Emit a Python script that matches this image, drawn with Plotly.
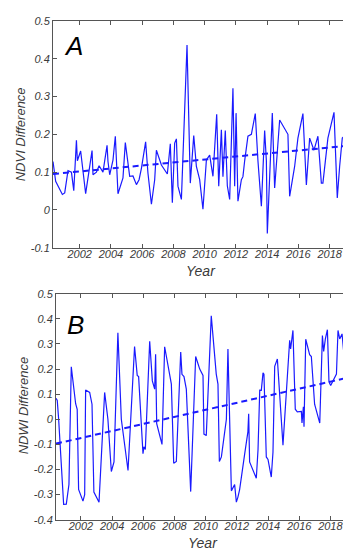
import plotly.graph_objects as go

# ---- Panel A: NDVI difference ----
ndvi_years = [2000.29, 2000.46, 2000.89, 2001.04, 2001.25, 2001.47, 2001.62, 2001.79, 2001.85, 2002.06,
              2002.38, 2002.60, 2002.79, 2002.85, 2003.07, 2003.24, 2003.49, 2003.75, 2003.81, 2003.92,
              2004.13, 2004.28, 2004.45, 2004.77, 2004.92, 2005.20, 2005.41, 2005.63, 2005.80, 2005.95,
              2006.22, 2006.37, 2006.59, 2006.80, 2006.91, 2007.23, 2007.61, 2007.80, 2007.93, 2008.08,
              2008.19, 2008.29, 2008.51, 2008.87, 2009.08, 2009.30, 2009.47, 2009.68, 2009.89, 2010.11,
              2010.32, 2010.53, 2010.77, 2010.90, 2011.07, 2011.17, 2011.32, 2011.45, 2011.60, 2011.81,
              2011.92, 2012.01, 2012.13, 2012.35, 2012.45, 2012.56, 2012.77, 2012.99, 2013.24, 2013.41,
              2013.63, 2013.84, 2013.95, 2014.01, 2014.16, 2014.27, 2014.33, 2014.48, 2014.80, 2015.33,
              2015.44, 2015.76, 2015.97, 2016.29, 2016.51, 2016.72, 2017.00, 2017.25, 2017.47, 2017.57,
              2017.89, 2018.28, 2018.49, 2018.64, 2018.81, 2019.07, 2019.13, 2019.22]
ndvi_vals = [0.128, 0.076, 0.041, 0.045, 0.104, 0.100, 0.051, 0.184, 0.130, 0.156,
             0.043, 0.106, 0.157, 0.093, 0.100, 0.117, 0.100, 0.171, 0.128, 0.093,
             0.132, 0.195, 0.043, 0.085, 0.178, 0.089, 0.090, 0.067, 0.080, 0.110,
             0.180, 0.097, 0.015, 0.080, 0.158, 0.119, 0.095, 0.175, 0.019, 0.177,
             0.188, 0.063, 0.028, 0.436, 0.071, 0.197, 0.115, 0.080, 0.002, 0.132,
             0.145, 0.089, 0.253, 0.063, 0.212, 0.088, 0.210, 0.064, 0.028, 0.322,
             0.063, 0.256, 0.023, 0.080, 0.088, 0.130, 0.195, 0.200, 0.255, 0.130,
             0.010, 0.210, 0.130, -0.062, 0.080, 0.220, 0.256, 0.058, 0.238, 0.200,
             0.036, 0.115, 0.190, 0.255, 0.066, 0.190, 0.158, 0.195, 0.071, 0.071,
             0.190, 0.258, 0.032, 0.115, 0.190, 0.200, 0.235, 0.060]
ndvi_trend_years = [2000.29, 2019.22]
ndvi_trend = [0.095, 0.170]

# ---- Panel B: NDWI difference ----
ndwi_years = [2000.40, 2000.48, 2000.57, 2000.89, 2001.06, 2001.23, 2001.38, 2001.59, 2001.66, 2001.76,
              2001.85, 2002.13, 2002.24, 2002.30, 2002.56, 2002.71, 2002.83, 2003.16, 2003.52, 2003.73,
              2003.95, 2004.12, 2004.37, 2004.59, 2005.02, 2005.44, 2005.61, 2005.70, 2005.98, 2006.04,
              2006.13, 2006.41, 2006.58, 2006.73, 2006.79, 2006.86, 2007.20, 2007.37, 2007.69, 2007.80,
              2007.95, 2008.12, 2008.40, 2008.48, 2008.61, 2008.76, 2009.04, 2009.36, 2009.62, 2009.83,
              2009.89, 2010.04, 2010.36, 2010.62, 2010.68, 2010.79, 2010.88, 2011.01, 2011.33, 2011.43,
              2011.54, 2011.65, 2011.86, 2011.97, 2012.07, 2012.18, 2012.50, 2012.71, 2012.76, 2012.82,
              2013.25, 2013.36, 2013.47, 2013.57, 2013.68, 2013.74, 2013.89, 2014.00, 2014.21, 2014.32,
              2014.43, 2014.60, 2014.96, 2015.39, 2015.45, 2015.60, 2015.75, 2015.88, 2016.14, 2016.18,
              2016.27, 2016.31, 2016.42, 2016.52, 2016.67, 2016.78, 2016.99, 2017.32, 2017.49, 2017.57,
              2017.68, 2017.81, 2017.91, 2018.02, 2018.39, 2018.49, 2018.60, 2018.75, 2019.03, 2019.22]
ndwi_vals = [0.084, 0.075, 0.000, -0.339, -0.338, -0.260, 0.209, 0.100, 0.062, 0.040,
             -0.279, -0.326, -0.300, 0.117, 0.107, 0.060, -0.290, -0.330, 0.107, 0.000,
             -0.208, -0.170, 0.345, 0.000, -0.204, 0.290, 0.175, 0.170, -0.137, -0.110,
             -0.120, 0.311, 0.153, 0.120, 0.259, -0.017, -0.100, 0.289, 0.180, 0.140,
             -0.175, -0.168, 0.268, 0.179, 0.170, 0.120, -0.288, 0.250, 0.200, 0.175,
             -0.059, -0.065, 0.412, 0.192, 0.180, 0.140, -0.168, -0.150, 0.000, 0.280,
             0.000, -0.285, -0.260, -0.330, -0.310, -0.280, -0.140, -0.050, 0.022, -0.170,
             -0.235, -0.120, 0.116, 0.115, 0.185, 0.180, -0.150, -0.160, -0.230, -0.130,
             0.211, 0.240, -0.103, 0.315, 0.280, 0.354, 0.040, 0.030, 0.031, -0.015,
             0.050, -0.030, 0.319, 0.290, 0.257, 0.250, 0.060, -0.015, 0.334, 0.270,
             0.320, 0.357, 0.149, 0.135, 0.180, 0.354, 0.320, 0.340, 0.153, 0.237]
ndwi_trend_years = [2000.40, 2019.22]
ndwi_trend = [-0.097, 0.167]

x_ticks = [2002, 2004, 2006, 2008, 2010, 2012, 2014, 2016, 2018]
ndvi_yticks = [-0.1, 0, 0.1, 0.2, 0.3, 0.4, 0.5]
ndwi_yticks = [-0.4, -0.3, -0.2, -0.1, 0, 0.1, 0.2, 0.3, 0.4, 0.5]

LINE = "#1a1aff"
FONT = "Liberation Sans, Arial, sans-serif"
GRAY = "#3a3a3a"
W, H = 351, 550

fig = go.Figure()
fig.add_trace(go.Scatter(x=ndvi_years, y=ndvi_vals, mode="lines",
                         line=dict(color=LINE, width=1.2), xaxis="x", yaxis="y", showlegend=False))
fig.add_trace(go.Scatter(x=ndvi_trend_years, y=ndvi_trend, mode="lines",
                         line=dict(color=LINE, width=2, dash="6px,4px"), xaxis="x", yaxis="y", showlegend=False))
fig.add_trace(go.Scatter(x=ndwi_years, y=ndwi_vals, mode="lines",
                         line=dict(color=LINE, width=1.2), xaxis="x2", yaxis="y2", showlegend=False))
fig.add_trace(go.Scatter(x=ndwi_trend_years, y=ndwi_trend, mode="lines",
                         line=dict(color=LINE, width=2, dash="6px,4px"), xaxis="x2", yaxis="y2", showlegend=False))

tickfont = dict(family=FONT, size=11, color=GRAY, style="italic")
common_x = dict(tickvals=x_ticks, ticktext=[str(t) for t in x_ticks], ticks="inside", ticklen=4,
                tickcolor="#555", showline=True, linecolor="#555", linewidth=1, mirror="ticks",
                showgrid=False, zeroline=False, tickfont=tickfont, ticklabelstandoff=-4)
common_y = dict(ticks="inside", ticklen=4, tickcolor="#555", showline=True, linecolor="#555",
                linewidth=1, mirror="ticks", showgrid=False, zeroline=False, tickfont=tickfont)


def label(text, x, y, size, angle=0, color=GRAY):
    return dict(text=text, xref="paper", yref="paper", x=x / W, y=1 - y / H, xanchor="center",
                yanchor="middle", showarrow=False, textangle=angle,
                font=dict(family=FONT, size=size, color=color, style="italic"))


fig.update_layout(
    width=W, height=H, margin=dict(l=0, r=0, t=0, b=0),
    paper_bgcolor="white", plot_bgcolor="white",
    xaxis=dict(domain=[45 / W, 341 / W], range=[2000.29, 2019.24], anchor="y", **common_x),
    yaxis=dict(domain=[1 - 239 / H, 1 - 7 / H], range=[-0.1, 0.5], anchor="x",
               tickvals=ndvi_yticks, ticktext=["-0.1", "0", "0.1", "0.2", "0.3", "0.4", "0.5"],
               **common_y),
    xaxis2=dict(domain=[48 / W, 342 / W], range=[2000.40, 2019.26], anchor="y2", **common_x),
    yaxis2=dict(domain=[1 - 517 / H, 1 - 286 / H], range=[-0.4, 0.5], anchor="x2",
                tickvals=ndwi_yticks,
                ticktext=["-0.4", "-0.3", "-0.2", "-0.1", "0", "0.1", "0.2", "0.3", "0.4", "0.5"],
                **common_y),
    annotations=[
        label("A", 65, 33, 26, color="black"),
        label("B", 67, 318, 26, color="black"),
        label("Year", 193, 263, 14),
        label("Year", 195, 541, 14),
        label("NDVI Difference", 12, 123, 13, angle=-90),
        label("NDWI Difference", 15, 400, 13, angle=-90),
    ],
)

fig.write_html("out.html")
